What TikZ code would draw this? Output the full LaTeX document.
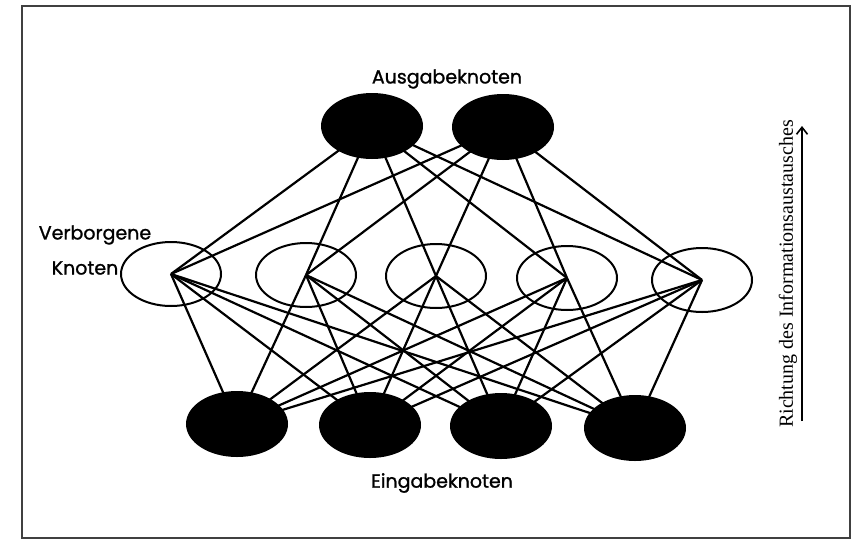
\documentclass[tikz,border=0pt]{standalone}
\usepackage{fontspec}
\setmainfont{Liberation Serif}
\newfontfamily\labelfont[FakeBold=1.2]{Poppins}
\usetikzlibrary{shapes.geometric,arrows.meta}
\pgfdeclarelayer{background}
\pgfsetlayers{background,main}
\tikzset{
  unit/.style={ellipse, minimum width=100pt, minimum height=64pt, inner sep=0pt, line width=2pt, draw=black},
  filledunit/.style={unit, fill=black},
  hiddenunit/.style={unit, fill=none},
  link/.style={line width=2.2pt, black},
  caption/.style={font=\labelfont\fontsize{19}{21}\selectfont, inner sep=0pt},
  frame/.style={line width=1.2pt, draw=black!75}
}
\begin{document}
\begin{tikzpicture}[x=1pt,y=-1pt]
\useasboundingbox (0,0) rectangle (853,544);
\draw[frame] (22,6) rectangle (850,538);

% output layer
\node[filledunit] (o1) at (372,126) {};
\node[filledunit] (o2) at (503,127) {};
% hidden layer
\node[hiddenunit] (h1) at (171,274) {};
\node[hiddenunit] (h2) at (306,275) {};
\node[hiddenunit] (h3) at (436,276) {};
\node[hiddenunit] (h4) at (567,278) {};
\node[hiddenunit] (h5) at (702,280) {};
% input layer
\node[filledunit] (i1) at (237,424) {};
\node[filledunit] (i2) at (370,425) {};
\node[filledunit] (i3) at (501,426) {};
\node[filledunit] (i4) at (635,428) {};

% full connections between layers
\begin{pgfonlayer}{background}
\foreach \h in {h1,h2,h3,h4,h5}{
  \foreach \o in {o1,o2}{\draw[link] (\o.center) -- (\h.center);}
  \foreach \i in {i1,i2,i3,i4}{\draw[link] (\h.center) -- (\i.center);}
}
\end{pgfonlayer}

% layer labels
\node[caption] (lout) at (447,79) {Ausgabeknoten};
\node[caption] (lin) at (442,483) {Eingabeknoten};
\node[caption] (lhid1) at (95,235) {Verborgene};
\node[caption] (lhid2) at (85,268) {Knoten};

% direction of information flow
\node[rotate=90, font=\fontsize{20}{22}\selectfont, inner sep=0pt] (dir) at (788,274) {Richtung des Informationsaustausches};
\coordinate (abot) at (802,421);
\coordinate (atop) at (802,126);
\draw[line width=1.6pt, -{Straight Barb[length=7pt,width=11pt,line width=1.6pt]}] (abot) -- (atop);
\end{tikzpicture}
\end{document}
